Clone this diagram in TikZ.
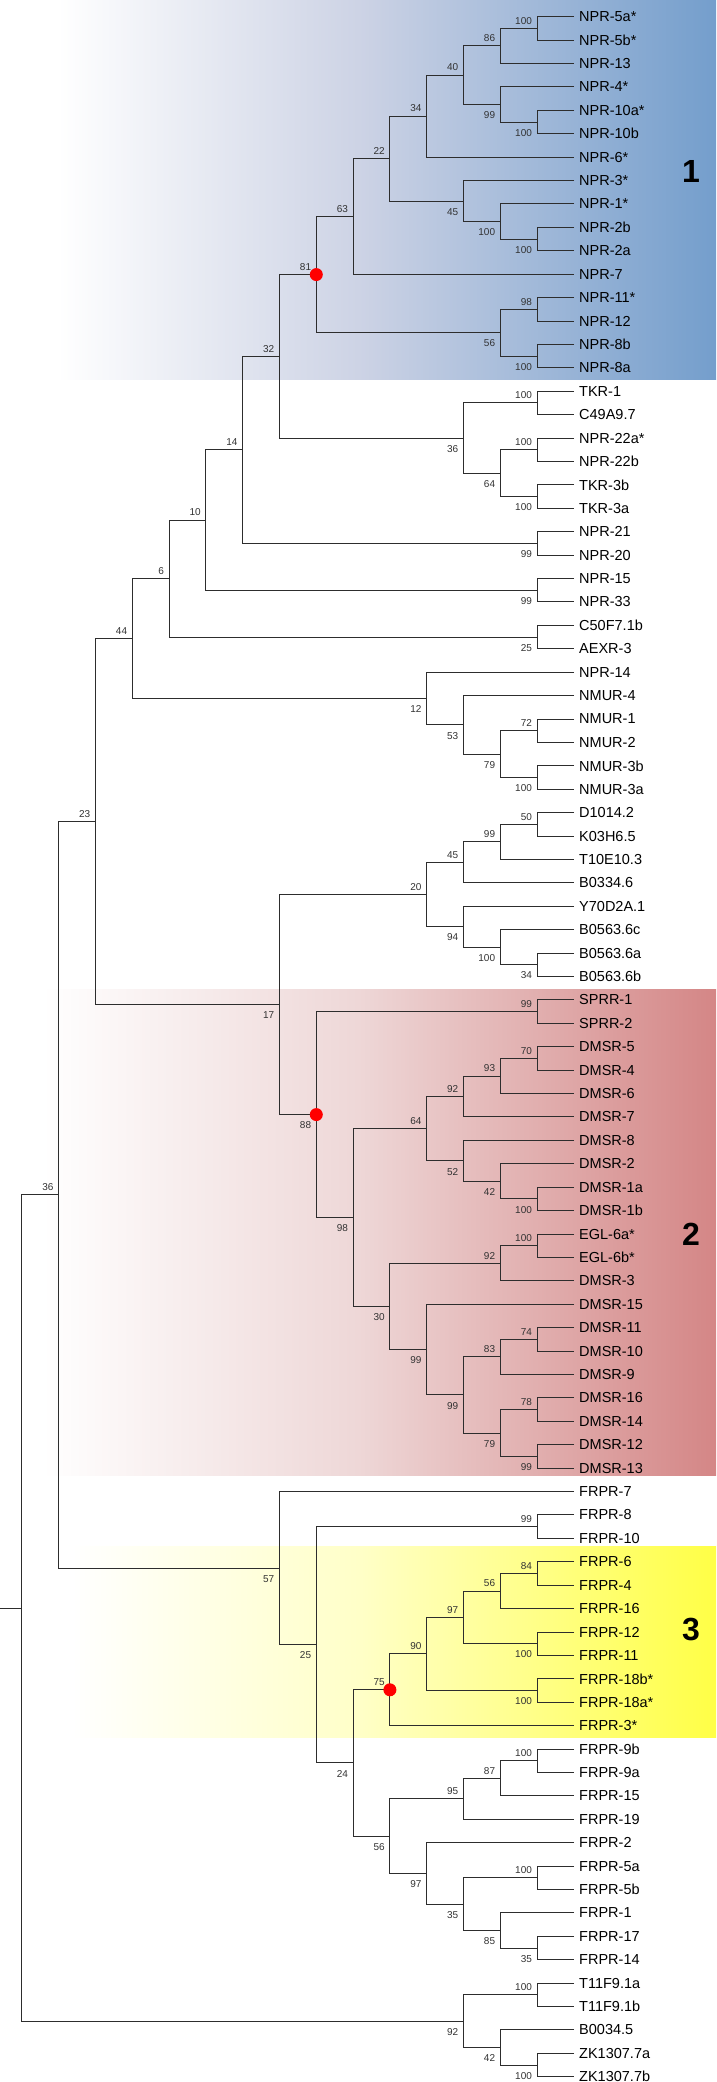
\documentclass[tikz,border=0pt]{standalone}
\usepackage{fontspec}
\setmainfont{Liberation Sans}
\usetikzlibrary{calc}
\definecolor{blueR}{RGB}{116,158,204}
\definecolor{blueM}{RGB}{205,211,229}
\definecolor{redR}{RGB}{212,134,134}
\definecolor{redM}{RGB}{238,215,215}
\definecolor{yelR}{RGB}{255,255,70}
\definecolor{yelM}{RGB}{255,255,200}
\definecolor{branchc}{RGB}{45,45,45}
\definecolor{bsc}{RGB}{50,50,50}
\pgfdeclarehorizontalshading{blueshade}{100bp}{color(0bp)=(white); color(25bp)=(white); color(29bp)=(white); color(50bp)=(blueM); color(75bp)=(blueR); color(100bp)=(blueR)}
\pgfdeclarehorizontalshading{redshade}{100bp}{color(0bp)=(white); color(25bp)=(white); color(28bp)=(white); color(50bp)=(redM); color(75bp)=(redR); color(100bp)=(redR)}
\pgfdeclarehorizontalshading{yelshade}{100bp}{color(0bp)=(white); color(25bp)=(white); color(30bp)=(white); color(50bp)=(yelM); color(75bp)=(yelR); color(100bp)=(yelR)}
\tikzset{
  branch/.style={draw=branchc, line width=1pt},
  leaf/.style={anchor=west, inner xsep=5pt, inner ysep=0pt, font=\fontsize{14.5}{16}\selectfont},
  bsup/.style={anchor=south east, inner sep=0pt, xshift=-5pt, yshift=4pt, font=\fontsize{10}{12}\selectfont, text=bsc},
  bsdn/.style={anchor=north east, inner sep=0pt, xshift=-5pt, yshift=-7pt, font=\fontsize{10}{12}\selectfont, text=bsc},
  reddot/.style={circle, fill=red, inner sep=0pt, minimum size=13pt},
  clusterlab/.style={font=\fontsize{32}{36}\selectfont\bfseries, inner sep=0pt},
}
\newcommand\inode[6]{%
  \coordinate (#1m) at ($(#3)!0.5!(#4)$);
  \coordinate (#1) at (col#2 |- #1m);
  \draw[branch] (#3) -| (#1) |- (#4);
  \node[bs#6] (#1t) at (#1) {#5};
}
\begin{document}
\begin{tikzpicture}[x=1pt,y=-1pt]
\useasboundingbox (0,0) rectangle (716,2082);
% cluster backgrounds
\shade[shading=blueshade] (0,0) rectangle (716,379);
\shade[shading=redshade] (0,989) rectangle (716,1475);
\shade[shading=yelshade] (0,1546) rectangle (716,1737);
% columns
\foreach \k in {0,...,15} \coordinate (col\k) at ({21.9+36.8*\k},0);
\coordinate (o) at (0,0);
% leaves
\foreach \t [count=\i] in {NPR-5a*,NPR-5b*,NPR-13,NPR-4*,NPR-10a*,NPR-10b,NPR-6*,NPR-3*,NPR-1*,NPR-2b,NPR-2a,NPR-7,NPR-11*,NPR-12,NPR-8b,NPR-8a,TKR-1,C49A9.7,NPR-22a*,NPR-22b,TKR-3b,TKR-3a,NPR-21,NPR-20,NPR-15,NPR-33,C50F7.1b,AEXR-3,NPR-14,NMUR-4,NMUR-1,NMUR-2,NMUR-3b,NMUR-3a,D1014.2,K03H6.5,T10E10.3,B0334.6,Y70D2A.1,B0563.6c,B0563.6a,B0563.6b,SPRR-1,SPRR-2,DMSR-5,DMSR-4,DMSR-6,DMSR-7,DMSR-8,DMSR-2,DMSR-1a,DMSR-1b,EGL-6a*,EGL-6b*,DMSR-3,DMSR-15,DMSR-11,DMSR-10,DMSR-9,DMSR-16,DMSR-14,DMSR-12,DMSR-13,FRPR-7,FRPR-8,FRPR-10,FRPR-6,FRPR-4,FRPR-16,FRPR-12,FRPR-11,FRPR-18b*,FRPR-18a*,FRPR-3*,FRPR-9b,FRPR-9a,FRPR-15,FRPR-19,FRPR-2,FRPR-5a,FRPR-5b,FRPR-1,FRPR-17,FRPR-14,T11F9.1a,T11F9.1b,B0034.5,ZK1307.7a,ZK1307.7b}
  {\node[leaf] (l\i) at (574,{16.7+(\i-1)*23.41}) {\t};}
% cluster 1
\inode{a1}{14}{l1}{l2}{100}{up}
\inode{a2}{13}{a1}{l3}{86}{up}
\inode{a3}{14}{l5}{l6}{100}{dn}
\inode{a4}{13}{l4}{a3}{99}{dn}
\inode{a5}{12}{a2}{a4}{40}{up}
\inode{a6}{11}{a5}{l7}{34}{up}
\inode{a7a}{14}{l10}{l11}{100}{dn}
\inode{a7b}{13}{l9}{a7a}{100}{dn}
\inode{a7c}{12}{l8}{a7b}{45}{dn}
\inode{a7}{10}{a6}{a7c}{22}{up}
\inode{a8}{9}{a7}{l12}{63}{up}
\inode{a9x}{14}{l13}{l14}{98}{up}
\inode{a9z}{14}{l15}{l16}{100}{dn}
\inode{a9y}{13}{a9x}{a9z}{56}{dn}
\inode{a9}{8}{a8}{a9y}{81}{up}
% TKR etc.
\inode{b1}{14}{l17}{l18}{100}{up}
\inode{b2}{14}{l19}{l20}{100}{up}
\inode{b2b}{14}{l21}{l22}{100}{dn}
\inode{b3}{13}{b2}{b2b}{64}{dn}
\inode{b4}{12}{b1}{b3}{36}{dn}
\inode{b0}{7}{a9}{b4}{32}{up}
\inode{b5x}{14}{l23}{l24}{99}{dn}
\inode{b5}{6}{b0}{b5x}{14}{up}
\inode{b6x}{14}{l25}{l26}{99}{dn}
\inode{b6}{5}{b5}{b6x}{10}{up}
\inode{b7x}{14}{l27}{l28}{25}{dn}
\inode{b7}{4}{b6}{b7x}{6}{up}
\inode{m1}{14}{l31}{l32}{72}{up}
\inode{m1b}{14}{l33}{l34}{100}{dn}
\inode{m2}{13}{m1}{m1b}{79}{dn}
\inode{m3}{12}{l30}{m2}{53}{dn}
\inode{m4}{11}{l29}{m3}{12}{dn}
\inode{m0}{3}{b7}{m4}{44}{up}
% D/K/T/B group
\inode{d1}{14}{l35}{l36}{50}{up}
\inode{d2}{13}{d1}{l37}{99}{up}
\inode{d3}{12}{d2}{l38}{45}{up}
\inode{d4a}{14}{l41}{l42}{34}{dn}
\inode{d4b}{13}{l40}{d4a}{100}{dn}
\inode{d4}{12}{l39}{d4b}{94}{dn}
\inode{d5}{11}{d3}{d4}{20}{up}
% cluster 2
\inode{e1}{14}{l43}{l44}{99}{up}
\inode{e2}{14}{l45}{l46}{70}{up}
\inode{e3}{13}{e2}{l47}{93}{up}
\inode{e4}{12}{e3}{l48}{92}{up}
\inode{e5a}{14}{l51}{l52}{100}{dn}
\inode{e5b}{13}{l50}{e5a}{42}{dn}
\inode{e5}{12}{l49}{e5b}{52}{dn}
\inode{e6}{11}{e4}{e5}{64}{up}
\inode{f1}{14}{l53}{l54}{100}{up}
\inode{f2}{13}{f1}{l55}{92}{up}
\inode{f3}{14}{l57}{l58}{74}{up}
\inode{f4}{13}{f3}{l59}{83}{up}
\inode{f5a}{14}{l60}{l61}{78}{up}
\inode{f5b}{14}{l62}{l63}{99}{dn}
\inode{f5}{13}{f5a}{f5b}{79}{dn}
\inode{f6}{12}{f4}{f5}{99}{dn}
\inode{f6b}{11}{l56}{f6}{99}{dn}
\inode{f7}{10}{f2}{f6b}{30}{dn}
\inode{e8}{9}{e6}{f7}{98}{dn}
\inode{e9}{8}{e1}{e8}{88}{dn}
\inode{d6}{7}{d5}{e9}{17}{dn}
\inode{g0}{2}{m0}{d6}{23}{up}
% FRPR
\inode{h1}{14}{l65}{l66}{99}{up}
\inode{h2}{14}{l67}{l68}{84}{up}
\inode{h3}{13}{h2}{l69}{56}{up}
\inode{h3b}{14}{l70}{l71}{100}{dn}
\inode{h4}{12}{h3}{h3b}{97}{up}
\inode{h4b}{14}{l72}{l73}{100}{dn}
\inode{h5}{11}{h4}{h4b}{90}{up}
\inode{h6}{10}{h5}{l74}{75}{up}
\inode{i1}{14}{l75}{l76}{100}{up}
\inode{i2}{13}{i1}{l77}{87}{up}
\inode{i3}{12}{i2}{l78}{95}{up}
\inode{i4}{14}{l80}{l81}{100}{up}
\inode{i5a}{14}{l83}{l84}{35}{dn}
\inode{i5}{13}{l82}{i5a}{85}{dn}
\inode{i6}{12}{i4}{i5}{35}{dn}
\inode{i7}{11}{l79}{i6}{97}{dn}
\inode{i8}{10}{i3}{i7}{56}{dn}
\inode{h6x}{9}{h6}{i8}{24}{dn}
\inode{h7}{8}{h1}{h6x}{25}{dn}
\inode{h8}{7}{l64}{h7}{57}{dn}
\inode{h0}{1}{g0}{h8}{36}{up}
% outgroup
\inode{j1}{14}{l85}{l86}{100}{up}
\inode{j2a}{14}{l88}{l89}{100}{dn}
\inode{j2}{13}{l87}{j2a}{42}{dn}
\inode{j3}{12}{j1}{j2}{92}{dn}
% root
\coordinate (rootm) at ($(h0)!0.5!(j3)$);
\coordinate (root) at (col0 |- rootm);
\draw[branch] (h0) -| (root) |- (j3);
\coordinate (stem) at (o |- root);
\draw[branch] (stem) -- (root);
% red dots
\node[reddot] (dot1) at (a9) {};
\node[reddot] (dot2) at (e9) {};
\node[reddot] (dot3) at (h6) {};
% cluster numbers
\node[clusterlab] (k1) at (691,171) {1};
\node[clusterlab] (k2) at (691,1234) {2};
\node[clusterlab] (k3) at (691,1629) {3};
\end{tikzpicture}
\end{document}
